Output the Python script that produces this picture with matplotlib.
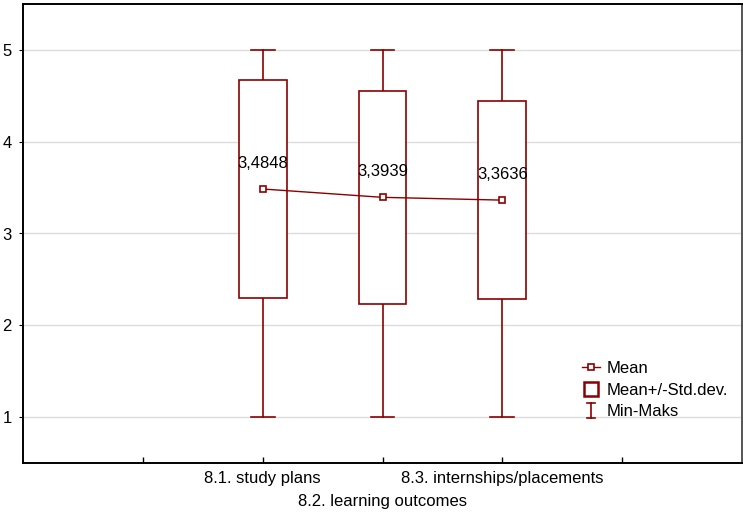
import matplotlib
matplotlib.use("Agg")
import matplotlib.pyplot as plt
from matplotlib.lines import Line2D
from matplotlib.patches import Rectangle
from matplotlib.legend_handler import HandlerBase

plt.rcParams["font.family"] = ["Liberation Sans", "DejaVu Sans"]

categories = ["8.1. study plans", "8.2. learning outcomes", "8.3. internships/placements"]
means = [3.4848, 3.3939, 3.3636]
std_devs = [1.19, 1.16, 1.08]
mins = [1, 1, 1]
maxs = [5, 5, 5]
y_ticks = [1, 2, 3, 4, 5]

red = "#8b0000"
positions = [1, 2, 3]
box_w = 0.4
cap_w = 0.2
fs = 12

fig = plt.figure(figsize=(7.43, 5.13), dpi=100)
ax = fig.add_axes([23 / 743, 50 / 513, 719 / 743, 459 / 513])

for x, m, s, lo, hi in zip(positions, means, std_devs, mins, maxs):
    # whiskers from min to max
    ax.plot([x, x], [lo, m - s], color=red, lw=1.2, zorder=3)
    ax.plot([x, x], [m + s, hi], color=red, lw=1.2, zorder=3)
    ax.plot([x - cap_w / 2, x + cap_w / 2], [lo, lo], color=red, lw=1.2, zorder=3)
    ax.plot([x - cap_w / 2, x + cap_w / 2], [hi, hi], color=red, lw=1.2, zorder=3)
    # mean +/- std box
    ax.add_patch(Rectangle((x - box_w / 2, m - s), box_w, 2 * s,
                           facecolor="white", edgecolor=red, lw=1.2, zorder=3))

ax.plot(positions, means, color=red, lw=1.0, marker="s", markersize=5,
        markerfacecolor="white", markeredgecolor=red, markeredgewidth=1.2, zorder=5)

for x, m in zip(positions, means):
    ax.text(x, m + 0.2, f"{m:.4f}".replace(".", ","), ha="center", va="bottom",
            fontsize=fs, color="black", zorder=6)

ax.set_xlim(-1, 5)
ax.set_ylim(0.5, 5.5)
ax.set_yticks(y_ticks)
ax.set_yticklabels([str(v) for v in y_ticks], fontsize=fs)
ax.yaxis.grid(True, color="#dcdcdc", lw=1.0)
ax.set_axisbelow(True)
ax.tick_params(axis="y", direction="out", length=3, width=0.8, pad=5)

ax.set_xticks([0, 1, 2, 3, 4])
ax.set_xticklabels([""] * 5)
ax.tick_params(axis="x", direction="in", length=4, width=1.0)
for x, label in zip(positions, categories):
    row = 1 if x == 2 else 0
    ax.text(x, 0.5 - 0.09 - row * 0.245, label, ha="center", va="top",
            fontsize=fs, transform=ax.transData, clip_on=False)

for side in ["left", "bottom", "top"]:
    ax.spines[side].set_linewidth(1.4)
    ax.spines[side].set_color("black")
ax.spines["right"].set_linewidth(1.4)
ax.spines["right"].set_color("#555555")


class BoxHandler(HandlerBase):
    def create_artists(self, legend, orig_handle, xdescent, ydescent, width, height, fontsize, trans):
        s = height * 1.25
        r = Rectangle((width / 2 - s / 2 - xdescent, height / 2 - s / 2 - ydescent), s, s,
                      facecolor="white", edgecolor=red, lw=1.8, transform=trans)
        return [r]


class RangeHandler(HandlerBase):
    def create_artists(self, legend, orig_handle, xdescent, ydescent, width, height, fontsize, trans):
        cx = width / 2 - xdescent
        h = height * 1.3
        y0 = height / 2 - h / 2 - ydescent
        c = width * 0.22
        lines = [
            Line2D([cx, cx], [y0, y0 + h], color=red, lw=1.2, transform=trans),
            Line2D([cx - c, cx + c], [y0, y0], color=red, lw=1.2, transform=trans),
            Line2D([cx - c, cx + c], [y0 + h, y0 + h], color=red, lw=1.2, transform=trans),
        ]
        return lines


mean_h = Line2D([], [], color=red, lw=1.0, marker="s", markersize=5,
                markerfacecolor="white", markeredgecolor=red, markeredgewidth=1.2)
box_h = Rectangle((0, 0), 1, 1)
range_h = Line2D([], [])
leg = ax.legend([mean_h, box_h, range_h], ["Mean", "Mean+/-Std.dev.", "Min-Maks"],
                handler_map={Rectangle: BoxHandler(), range_h: RangeHandler()},
                loc="upper left", bbox_to_anchor=((582 - 23) / 719, (513 - 361 - 50) / 459),
                bbox_transform=ax.transAxes, frameon=False, fontsize=fs,
                handlelength=1.1, handletextpad=0.35, labelspacing=0.4,
                borderaxespad=0, borderpad=0)

fig.savefig("out.png", dpi=100)
